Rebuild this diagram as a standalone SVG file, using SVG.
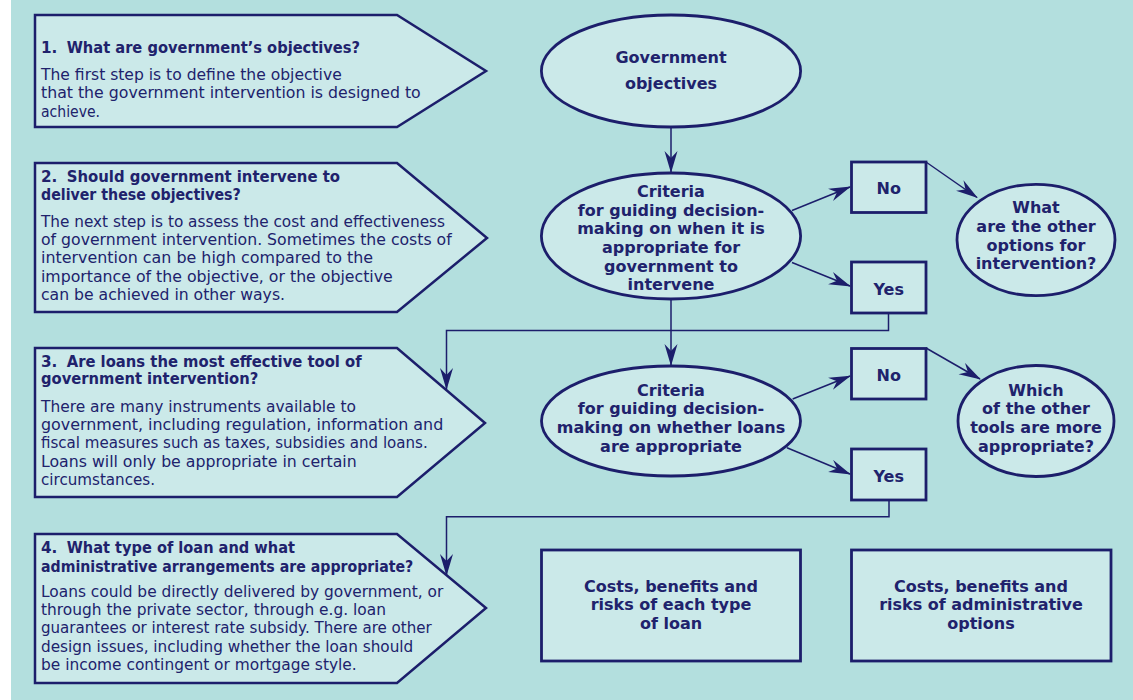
<svg xmlns="http://www.w3.org/2000/svg" width="1133" height="700" viewBox="0 0 1133 700">
<defs>
<style>
.bg{fill:#B3DFDE}
.panel{fill:#CBE9E9;stroke:#1C1E6B;stroke-width:2.5;stroke-linejoin:miter}
.node{fill:#CBE9E9;stroke:#1C1E6B;stroke-width:2.8}
.t{font-family:"DejaVu Sans","Liberation Sans",sans-serif;fill:#20226C}
.h{font-weight:bold;font-size:15.2px}
.b{font-size:16px}
.n{font-weight:bold;font-size:16px;text-anchor:middle}
.c{fill:none;stroke:#1C1E6B;stroke-width:1.5}
</style>
<marker id="ah" markerUnits="userSpaceOnUse" markerWidth="22" markerHeight="14" refX="21" refY="7" orient="auto" viewBox="0 0 22 14">
<path d="M0,0.5 L22,7 L0,13.5 L7,7 z" fill="#1C1E6B"/>
</marker>
</defs>
<rect class="bg" x="11" y="0" width="1122" height="700"/>

<g id="connectors">
<line class="c" x1="671" y1="127" x2="671" y2="172" marker-end="url(#ah)"/>
<line class="c" x1="792" y1="210.5" x2="850" y2="187" marker-end="url(#ah)"/>
<line class="c" x1="792" y1="262.5" x2="850" y2="286" marker-end="url(#ah)"/>
<line class="c" x1="926" y1="162" x2="977" y2="197.5" marker-end="url(#ah)"/>
<polyline class="c" points="888.5,313 888.5,330.5 446.5,330.5 446.5,389" marker-end="url(#ah)"/>
<line class="c" x1="671" y1="299" x2="671" y2="365" marker-end="url(#ah)"/>
<line class="c" x1="792.7" y1="399" x2="850" y2="376" marker-end="url(#ah)"/>
<line class="c" x1="787" y1="447.7" x2="850" y2="474" marker-end="url(#ah)"/>
<line class="c" x1="926" y1="348" x2="980" y2="379" marker-end="url(#ah)"/>
<polyline class="c" points="889,500 889,516.7 446.5,516.7 446.5,575" marker-end="url(#ah)"/>
</g>

<g id="panel1">
<polygon class="panel" points="35,15 397,15 486,71 397,127 35,127"/>
<text class="t h" y="53.3"><tspan x="41">1.</tspan><tspan x="66.7" textLength="293.3" lengthAdjust="spacingAndGlyphs">What are government’s objectives?</tspan></text>
<text class="t b" x="41" y="80" textLength="300.7" lengthAdjust="spacingAndGlyphs">The first step is to define the objective</text>
<text class="t b" x="41" y="98.3" textLength="379.7" lengthAdjust="spacingAndGlyphs">that the government intervention is designed to</text>
<text class="t b" x="41" y="116.7" textLength="59" lengthAdjust="spacingAndGlyphs">achieve.</text>
</g>

<g id="panel2">
<polygon class="panel" points="35,163 397,163 487,238 397,312 35,312"/>
<text class="t h" y="181.7"><tspan x="41">2.</tspan><tspan x="66.7" textLength="273.3" lengthAdjust="spacingAndGlyphs">Should government intervene to</tspan></text>
<text class="t h" x="41" y="200" textLength="199.7" lengthAdjust="spacingAndGlyphs">deliver these objectives?</text>
<text class="t b" x="41" y="226.7" textLength="404" lengthAdjust="spacingAndGlyphs">The next step is to assess the cost and effectiveness</text>
<text class="t b" x="41" y="245" textLength="410.7" lengthAdjust="spacingAndGlyphs">of government intervention. Sometimes the costs of</text>
<text class="t b" x="41" y="263.3" textLength="332" lengthAdjust="spacingAndGlyphs">intervention can be high compared to the</text>
<text class="t b" x="41" y="281.7" textLength="351.7" lengthAdjust="spacingAndGlyphs">importance of the objective, or the objective</text>
<text class="t b" x="41" y="300" textLength="244" lengthAdjust="spacingAndGlyphs">can be achieved in other ways.</text>
</g>

<g id="panel3">
<polygon class="panel" points="35,348 397,348 485,423 397,497 35,497"/>
<text class="t h" y="366.7"><tspan x="41">3.</tspan><tspan x="66.7" textLength="295" lengthAdjust="spacingAndGlyphs">Are loans the most effective tool of</tspan></text>
<text class="t h" x="41" y="384.3" textLength="217.3" lengthAdjust="spacingAndGlyphs">government intervention?</text>
<text class="t b" x="41" y="411.7" textLength="315" lengthAdjust="spacingAndGlyphs">There are many instruments available to</text>
<text class="t b" x="41" y="430" textLength="402.3" lengthAdjust="spacingAndGlyphs">government, including regulation, information and</text>
<text class="t b" x="41" y="448.3" textLength="386.7" lengthAdjust="spacingAndGlyphs">fiscal measures such as taxes, subsidies and loans.</text>
<text class="t b" x="41" y="466.7" textLength="315.7" lengthAdjust="spacingAndGlyphs">Loans will only be appropriate in certain</text>
<text class="t b" x="41" y="485" textLength="114" lengthAdjust="spacingAndGlyphs">circumstances.</text>
</g>

<g id="panel4">
<polygon class="panel" points="35,534 397,534 486,608 397,683 35,683"/>
<text class="t h" y="553.3"><tspan x="41">4.</tspan><tspan x="66.7" textLength="228.3" lengthAdjust="spacingAndGlyphs">What type of loan and what</tspan></text>
<text class="t h" x="41" y="571.7" textLength="372.3" lengthAdjust="spacingAndGlyphs">administrative arrangements are appropriate?</text>
<text class="t b" x="41" y="596.7" textLength="402.3" lengthAdjust="spacingAndGlyphs">Loans could be directly delivered by government, or</text>
<text class="t b" x="41" y="615" textLength="345" lengthAdjust="spacingAndGlyphs">through the private sector, through e.g. loan</text>
<text class="t b" x="41" y="633.3" textLength="390.7" lengthAdjust="spacingAndGlyphs">guarantees or interest rate subsidy. There are other</text>
<text class="t b" x="41" y="651.7" textLength="372.3" lengthAdjust="spacingAndGlyphs">design issues, including whether the loan should</text>
<text class="t b" x="41" y="670" textLength="315.7" lengthAdjust="spacingAndGlyphs">be income contingent or mortgage style.</text>
</g>

<g id="gov-objectives">
<ellipse class="node" cx="671" cy="71" rx="129.6" ry="56"/>
<text class="t n" x="671" y="63.3">Government</text>
<text class="t n" x="671" y="89.3">objectives</text>
</g>

<g id="criteria1">
<ellipse class="node" cx="671" cy="236" rx="129.6" ry="63"/>
<text class="t n" x="671" y="197.3">Criteria</text>
<text class="t n" x="671" y="215.7">for guiding decision-</text>
<text class="t n" x="671" y="234.3">making on when it is</text>
<text class="t n" x="671" y="253">appropriate for</text>
<text class="t n" x="671" y="271.5">government to</text>
<text class="t n" x="671" y="290">intervene</text>
</g>

<g id="no1">
<rect class="node" x="851.5" y="162" width="74.5" height="50.5"/>
<text class="t n" x="888.7" y="194.3">No</text>
</g>

<g id="yes1">
<rect class="node" x="851.5" y="262" width="74.5" height="51"/>
<text class="t n" x="888.7" y="295">Yes</text>
</g>

<g id="other-options">
<ellipse class="node" cx="1036" cy="240" rx="79" ry="55.7"/>
<text class="t n" x="1036" y="213.3">What</text>
<text class="t n" x="1036" y="232.3">are the other</text>
<text class="t n" x="1036" y="250.7">options for</text>
<text class="t n" x="1036" y="268.5">intervention?</text>
</g>

<g id="criteria2">
<ellipse class="node" cx="671" cy="421" rx="129.5" ry="55"/>
<text class="t n" x="671" y="395.7">Criteria</text>
<text class="t n" x="671" y="414.3">for guiding decision-</text>
<text class="t n" x="671" y="433.3">making on whether loans</text>
<text class="t n" x="671" y="451.7">are appropriate</text>
</g>

<g id="no2">
<rect class="node" x="851.5" y="348.5" width="74.5" height="50.5"/>
<text class="t n" x="888.7" y="381">No</text>
</g>

<g id="yes2">
<rect class="node" x="851.5" y="449" width="74.5" height="51"/>
<text class="t n" x="888.7" y="481.7">Yes</text>
</g>

<g id="other-tools">
<ellipse class="node" cx="1036" cy="421" rx="78" ry="55.5"/>
<text class="t n" x="1036" y="395.7">Which</text>
<text class="t n" x="1036" y="414.3">of the other</text>
<text class="t n" x="1036" y="433.3">tools are more</text>
<text class="t n" x="1036" y="451.7">appropriate?</text>
</g>

<g id="loan-types">
<rect class="node" x="541.5" y="550" width="259" height="111"/>
<text class="t n" x="671" y="591.7">Costs, benefits and</text>
<text class="t n" x="671" y="610.3">risks of each type</text>
<text class="t n" x="671" y="629">of loan</text>
</g>

<g id="admin-options">
<rect class="node" x="851.5" y="550" width="259.5" height="111"/>
<text class="t n" x="981" y="591.7">Costs, benefits and</text>
<text class="t n" x="981" y="610.3">risks of administrative</text>
<text class="t n" x="981" y="629">options</text>
</g>
</svg>
